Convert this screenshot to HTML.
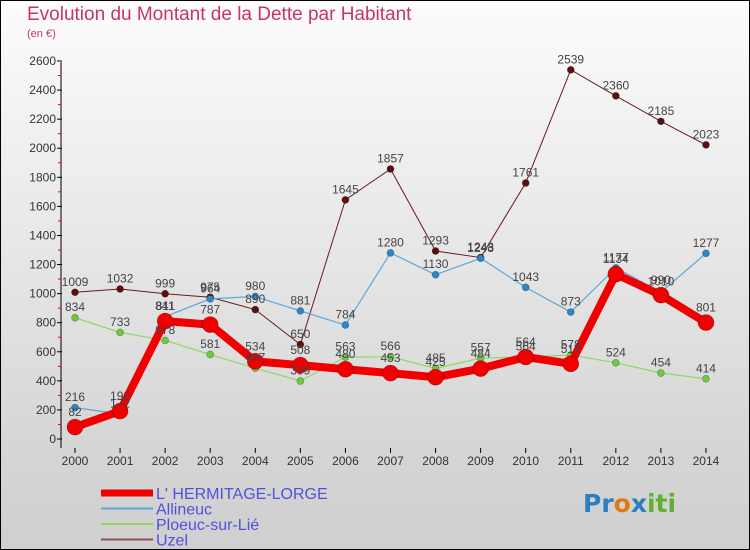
<!DOCTYPE html>
<html><head><meta charset="utf-8"><style>
body{margin:0}
#wrap{position:relative;width:748px;height:548px;border:1px solid #000;background:linear-gradient(#fcfcfc,#d4d4d4 85%,#cfcfcf);overflow:hidden;font-family:"Liberation Sans","DejaVu Sans",sans-serif}
.t{position:absolute;white-space:nowrap}
</style></head><body>
<div id="wrap">
<div class="t" style="left:26px;top:3px;font-size:19px;color:#c8346a">Evolution du Montant de la Dette par Habitant</div>
<div class="t" style="left:26px;top:27px;font-size:11px;color:#c8346a">(en €)</div>
<svg id="svg" width="748" height="548" style="position:absolute;left:0;top:0"></svg>
<div class="t" style="left:582px;top:488px;font-size:25px;font-family:'DejaVu Sans',sans-serif;font-weight:bold"><span style="color:#2a7fc0">Pr</span><span style="color:#e07a10">o</span><span style="color:#2a7fc0">x</span><span style="color:#60b030">iti</span></div>
</div>
<script>
const years=[2000,2001,2002,2003,2004,2005,2006,2007,2008,2009,2010,2011,2012,2013,2014];
const hermitage=[82,192,811,787,534,508,480,453,425,484,564,517,1134,990,801];
const allineuc=[216,172,841,964,980,881,784,1280,1130,1243,1043,873,1177,1010,1277];
const ploeuc=[834,733,678,581,487,399,563,566,485,557,564,578,524,454,414];
const uzel=[1009,1032,999,975,890,650,1645,1857,1293,1248,1761,2539,2360,2185,2023];
const yTicks=[0,200,400,600,800,1000,1200,1400,1600,1800,2000,2200,2400,2600];
const names=["L' HERMITAGE-LORGE","Allineuc","Ploeuc-sur-Lié","Uzel"];
const NS="http://www.w3.org/2000/svg";
const svg=document.getElementById('svg');
const X=i=>74+i*45.07, Y=v=>438-v*378/2600;
function el(t,a,p){const e=document.createElementNS(NS,t);for(const k in a)e.setAttribute(k,a[k]);(p||svg).appendChild(e);return e;}
let ax=el('line',{x1:60,y1:61,x2:60,y2:447,stroke:'#000'});


yTicks.forEach((v,i)=>{
 el('line',{x1:56,x2:61,y1:Y(v),y2:Y(v),stroke:'#000'});
 if(i<yTicks.length-1) el('line',{x1:57,x2:60,y1:Y(v+100),y2:Y(v+100),stroke:'#e00'});
 const t=el('text',{x:55,y:Y(v)+4,'text-anchor':'end','font-size':12,fill:'#333'});t.textContent=v;
 
 
});
years.forEach((y,i)=>{
 el('line',{x1:X(i),x2:X(i),y1:447,y2:452,stroke:'#000'});
 const t=el('text',{x:X(i),y:464,'text-anchor':'middle','font-size':12,fill:'#333'});t.textContent=y;
 
 
});
const series=[[uzel,'#6b1a1a','#5a1010',1,3.5,'uzel'],[ploeuc,'#90d860','#70c840',1.2,3.5,'ploeuc'],[allineuc,'#5ea6d8','#2e86c8',1.2,3.5,'allineuc'],[hermitage,'#f00000','#f00000',8,8,'hermitage']];
series.forEach(s=>{
 const [d,c,dc,w,r,n]=s;
 const p=el('polyline',{points:d.map((v,i)=>X(i)+','+Y(v)).join(' '),fill:'none',stroke:c,'stroke-width':w,'stroke-linejoin':'round'});
 
 
 d.forEach((v,i)=>{
  const m=el('circle',{cx:X(i),cy:Y(v),r:r,fill:dc,stroke:'rgba(0,0,0,0.3)','stroke-width':0.7});
  
  
 });
});
series.forEach(s=>{
 const [d,,,,r,n]=s;
 d.forEach((v,i)=>{
  const t=el('text',{x:X(i),y:Y(v)-r-3,'text-anchor':'middle','font-size':12,fill:'#444'});t.textContent=v;
  
  
 });
});
const lc=['#f00000','#5ea6d8','#90d860','#8a5050'],lw=[7,2,2,2];
names.forEach((nm,i)=>{
 const y=492+i*15.5;
 const l=el('line',{x1:100,x2:152,y1:y,y2:y,stroke:lc[i],'stroke-width':lw[i]});
 
 
 const t=el('text',{x:155,y:y+6,'font-size':16,fill:'#5050e0'});t.textContent=nm;
 
 
});
</script>
</body></html>
